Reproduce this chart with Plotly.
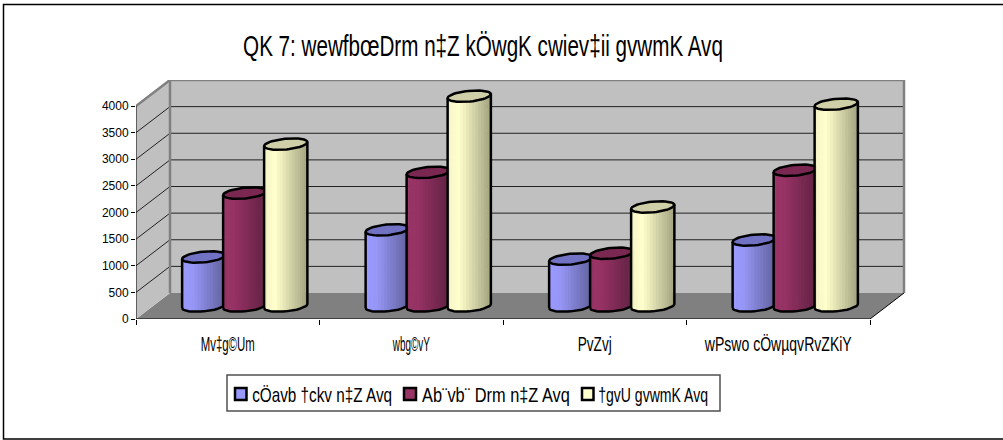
import json
import math
import plotly.graph_objects as go

# ---- data ----
categories = ["Mv‡g©Um", "wbg©vY", "PvZvj", "wPswo cÖwµqvRvZKiY"]
main_income = [920, 1430, 880, 1240]
other_income = [2120, 2510, 990, 2550]
total_income = [3040, 3940, 1860, 3790]
series_names = ["cÖavb †ckv n‡Z Avq", "Ab¨vb¨ Drm n‡Z Avq", "†gvU gvwmK Avq"]
y_ticks = [0, 500, 1000, 1500, 2000, 2500, 3000, 3500, 4000]
title_text = "QK 7: wewfbœDrm n‡Z kÖwgK cwiev‡ii gvwmK Avq"

# ---- look ----
FONT = "Liberation Sans"
W, H = 1003, 440
L, R, T, B = 136, 906, 80, 319          # plot box in the page
PX_X = 183.5                            # px per category
PX_Y = (319 - 106) / 4000               # px per unit
DX = 34 / PX_X                          # depth shift, in axis units
DY = 26 / PX_Y
RANGE_X = [0, (R - L) / PX_X]
RANGE_Y = [0, (B - T) / PX_Y]
BAR_A = 20.3 / PX_X                     # cylinder half-width
BAR_K = 0.22                            # cylinder depth share
OFFSETS = [-41 / PX_X, 0, 41 / PX_X]
STRIPS = 22

side_colors = [
    [(0.0, (153, 153, 255)), (0.25, (150, 150, 245)), (1.0, (98, 98, 160))],
    [(0.0, (153, 51, 102)), (0.25, (150, 50, 100)), (1.0, (98, 34, 68))],
    [(0.0, (246, 246, 200)), (0.25, (255, 255, 204)), (1.0, (165, 165, 130))],
]
top_colors = ["#7272c4", "#7a2852", "#cfcfa8"]
legend_colors = ["#9999ff", "#993366", "#ffffcc"]

# widths the narrow text occupies in the reference, in px
text_widths = {title_text: 480}
text_widths.update(zip(categories, [54, 37, 34, 147]))
text_widths.update(zip(series_names, [140, 148, 110]))
# legend geometry in page px
LEG_BOX = (227, 375, 720, 411)
LEG_KEYS = [(234, 247.5), (403, 417), (581, 594.5)]
LEG_TEXT = [(252, 392), (422, 570), (598, 708)]


def mix(stops, f):
    for (f0, c0), (f1, c1) in zip(stops, stops[1:]):
        if f <= f1:
            u = (f - f0) / (f1 - f0)
            return "rgb(%d,%d,%d)" % tuple(round(a + (b - a) * u) for a, b in zip(c0, c1))
    return "rgb(%d,%d,%d)" % stops[-1][1]


def ring(cx, cy, t):
    """Point of a horizontal circle seen in oblique projection."""
    return (cx + BAR_A * math.cos(t) + BAR_K * DX * math.sin(t),
            cy + BAR_K * DY * math.sin(t))


def lower_angles():
    t0 = math.atan2(BAR_K * DX, BAR_A)
    return t0 + math.pi, t0 + 2 * math.pi


def px(x):
    return (x - L) / (R - L)


def py(y):
    return (B - y) / (B - T)


fig = go.Figure()

# floor, walls
n = len(categories)
fig.add_trace(go.Scatter(x=[0, n, n + DX, DX, 0], y=[0, 0, DY, DY, 0], mode="lines",
                         fill="toself", fillcolor="#808080", line=dict(width=0),
                         hoverinfo="skip", showlegend=False))
fig.add_trace(go.Scatter(x=[DX, n + DX, n + DX, DX, DX, None, 0, DX, DX, 0, 0],
                         y=[DY, DY, 4000 + DY, 4000 + DY, DY, None, 0, DY, 4000 + DY, 4000, 0],
                         mode="lines", fill="toself", fillcolor="#c0c0c0", line=dict(width=0),
                         hoverinfo="skip", showlegend=False))

# gridlines
gx, gy = [], []
for v in y_ticks[1:-1]:
    gx += [0, DX, n + DX, None]
    gy += [v, v + DY, v + DY, None]
fig.add_trace(go.Scatter(x=gx, y=gy, mode="lines", line=dict(color="#222222", width=1),
                         hoverinfo="skip", showlegend=False))
# wall edges
fig.add_trace(go.Scatter(x=[0, DX, n + DX, n + DX, None, DX, DX],
                         y=[4000, 4000 + DY, 4000 + DY, DY, None, DY, 4000 + DY],
                         mode="lines", line=dict(color="#808080", width=2.5),
                         hoverinfo="skip", showlegend=False))
# front axes
fig.add_trace(go.Scatter(x=[0, 0, None, 0, n, n + DX],
                         y=[4000, 0, None, 0, 0, DY],
                         mode="lines", line=dict(color="#000000", width=1),
                         cliponaxis=False, hoverinfo="skip", showlegend=False))

# cylinders, left to right so that each one covers its neighbour's side
t_start, t_end = lower_angles()
for s, (vals, name) in enumerate(zip([main_income, other_income, total_income], series_names)):
    centers = [i + 0.5 + DX / 2 + OFFSETS[s] for i in range(n)]
    base_y = DY / 2
    for k in range(STRIPS):
        a0 = t_start + (t_end - t_start) * k / STRIPS
        a1 = t_start + (t_end - t_start) * min(k + 1.25, STRIPS) / STRIPS
        xs, ys = [], []
        for c, v in zip(centers, vals):
            p0, p1 = ring(c, base_y, a0), ring(c, base_y, a1)
            xs += [p0[0], p1[0], p1[0], p0[0], p0[0], None]
            ys += [p0[1], p1[1], p1[1] + v, p0[1] + v, p0[1], None]
        frac = (ring(0, 0, t_start + (t_end - t_start) * (k + 0.5) / STRIPS)[0] + BAR_A) / (2 * BAR_A)
        fig.add_trace(go.Scatter(x=xs, y=ys, mode="lines", fill="toself",
                                 fillcolor=mix(side_colors[s], max(0, min(1, frac))),
                                 line=dict(width=0), hoverinfo="skip", showlegend=False))
    # top ellipse + outline
    tx, ty, ox, oy = [], [], [], []
    for c, v in zip(centers, vals):
        for j in range(49):
            p = ring(c, base_y + v, 2 * math.pi * j / 48)
            tx.append(p[0]); ty.append(p[1])
        tx.append(None); ty.append(None)
        for j in range(25):
            p = ring(c, base_y, t_start + (t_end - t_start) * j / 24)
            ox.append(p[0]); oy.append(p[1])
        p = ring(c, base_y + v, t_end)
        ox.append(p[0]); oy.append(p[1])
        p = ring(c, base_y + v, t_start)
        ox += [None, p[0]]; oy += [None, p[1]]
        p = ring(c, base_y, t_start)
        ox += [p[0], None]; oy += [p[1], None]
    fig.add_trace(go.Scatter(x=tx, y=ty, mode="lines", fill="toself", fillcolor=top_colors[s],
                             line=dict(color="#000000", width=2.5), hoverinfo="skip", showlegend=False))
    fig.add_trace(go.Scatter(x=ox, y=oy, mode="lines", line=dict(color="#000000", width=2.5),
                             hoverinfo="skip", showlegend=False))

# frame and legend, placed on the page
shapes = [
    dict(type="rect", xref="paper", yref="paper", x0=px(3.5), x1=px(1020), y0=py(4.5), y1=py(439),
         line=dict(color="#000000", width=1.5), fillcolor="rgba(0,0,0,0)", layer="below"),
    dict(type="rect", xref="paper", yref="paper", x0=px(LEG_BOX[0]), x1=px(LEG_BOX[2]),
         y0=py(LEG_BOX[1]), y1=py(LEG_BOX[3]), line=dict(color="#505050", width=1.5),
         fillcolor="#ffffff"),
]
annotations = []
for (k0, k1), (t0, t1), c, name in zip(LEG_KEYS, LEG_TEXT, legend_colors, series_names):
    shapes.append(dict(type="rect", xref="paper", yref="paper", x0=px(k0 + 1), x1=px(k1 - 1),
                       y0=py(388), y1=py(400), line=dict(color="#000000", width=2.5), fillcolor=c))
    annotations.append(dict(text=name, xref="paper", yref="paper", x=px((t0 + t1) / 2), y=py(394),
                            xanchor="center", yanchor="middle", showarrow=False,
                            font=dict(family=FONT, size=21, color="#000000")))

fig.update_layout(
    width=W, height=H, autosize=False, showlegend=False,
    paper_bgcolor="#ffffff", plot_bgcolor="#ffffff",
    margin=dict(l=L, r=W - R, t=T, b=H - B, pad=0),
    font=dict(family=FONT, color="#000000"),
    title=dict(text=title_text, x=483 / W, xanchor="center", y=1 - 46 / H, yanchor="middle",
               font=dict(family=FONT, size=30, color="#000000")),
    xaxis=dict(range=RANGE_X, showgrid=False, zeroline=False, showline=False,
               tickmode="array", tickvals=[i + 0.5 for i in range(n)], ticktext=categories,
               ticks="outside", ticklen=6, tickcolor="rgba(0,0,0,0)",
               tickfont=dict(family=FONT, size=21, color="#000000"),
               minor=dict(tickmode="array", tickvals=list(range(n + 1)), ticks="outside",
                          ticklen=5, tickcolor="#000000", tickwidth=1, showgrid=False)),
    yaxis=dict(range=RANGE_Y, showgrid=False, zeroline=False, showline=False,
               tickmode="array", tickvals=y_ticks, ticks="outside", ticklen=4,
               tickcolor="#000000", tickwidth=1,
               tickfont=dict(family=FONT, size=12, color="#000000")),
    shapes=shapes,
    annotations=annotations,
)

# squeeze each narrow text horizontally about its centre
squeeze = """
document.body.style.margin = '0';
var widths = %s;
document.querySelectorAll('svg text').forEach(function (t) {
  var w = widths[t.textContent];
  if (!w) return;
  var natural = t.getComputedTextLength();
  var x = parseFloat(t.getAttribute('x')) || 0;
  var before = t.getAttribute('transform') || '';
  t.setAttribute('transform', before + ' translate(' + x + ',0) scale(' + (w / natural) + ',1) translate(' + (-x) + ',0)');
});
""" % json.dumps(text_widths)

fig.write_html("out.html", config={"displayModeBar": False}, post_script=squeeze)
